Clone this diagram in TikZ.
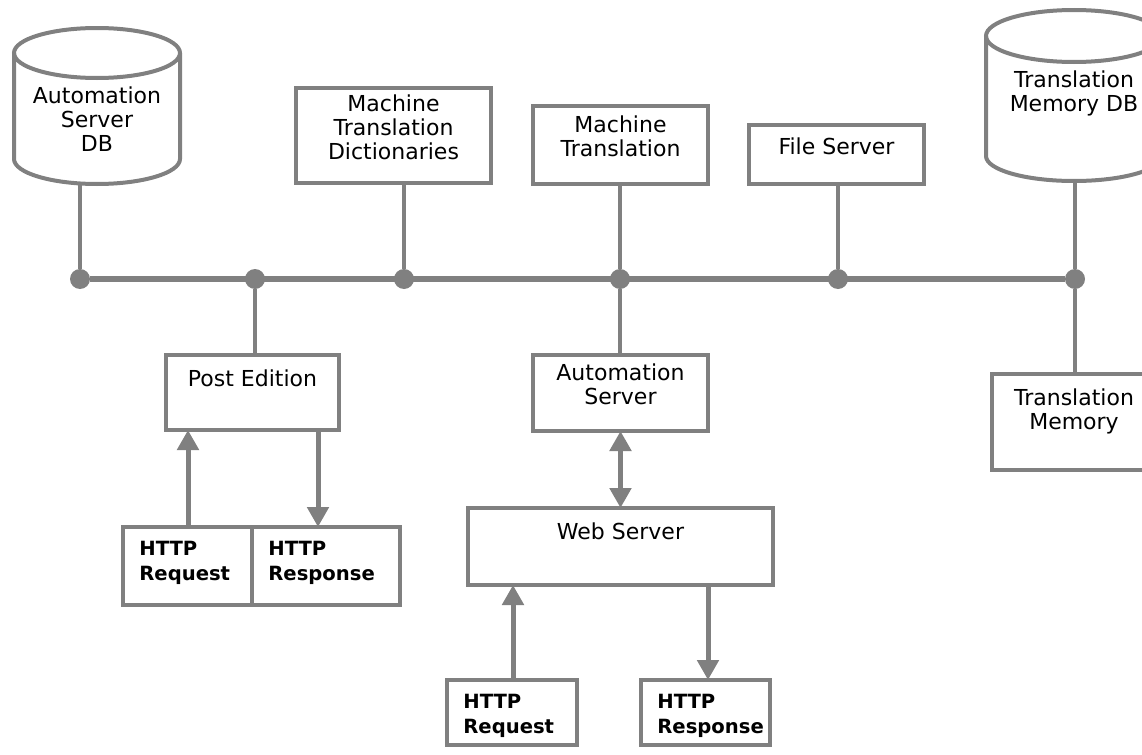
\documentclass[tikz,border=0pt]{standalone}
\usepackage{fontspec}
\setmainfont{DejaVu Sans}
\usetikzlibrary{calc,positioning,arrows.meta,shapes.geometric,fit}
\definecolor{netgray}{RGB}{128,128,128}
\tikzset{
  wire/.style={draw=netgray,line width=2pt},
  bus/.style={draw=netgray,line width=3pt},
  box/.style={draw=netgray,line width=2pt,fill=white,inner sep=0pt,outer sep=0pt,align=center,font=\fontsize{11}{12}\selectfont},
  dot/.style={circle,fill=netgray,inner sep=0pt,minimum size=10pt},
  flow/.style={draw=netgray,line width=2.5pt,-{Triangle[width=10.5pt,length=10pt]}},
  flowboth/.style={flow,{Triangle[width=10.5pt,length=10pt]}-{Triangle[width=10.5pt,length=10pt]}},
  toptext/.style={label={[anchor=north,inner sep=0pt,yshift=-7pt,align=center,font=\fontsize{11}{12}\selectfont]north:#1}},
  httptext/.style={label={[anchor=north west,inner sep=0pt,xshift=8pt,yshift=-7pt,align=left,font=\bfseries\fontsize{9.8}{12.5}\selectfont]north west:#1}},
}

\begin{document}
\begin{tikzpicture}[x=0.5pt,y=-0.5pt]

\useasboundingbox (0,0) rectangle (1142,755);
\clip (0,0) rectangle (1142,755);

%databases
\draw[wire,fill=white] (14,53) -- (14,159) arc[start angle=180,end angle=0,x radius=83,y radius=25] -- (180,53);
\draw[wire] (97,53) ellipse[x radius=83,y radius=25];
\node[box,draw=none,fill=none] (dbAuto) at (97,119) {Automation\\Server\\DB};
\coordinate (dbAutoBase) at (80,183);

\draw[wire,fill=white] (986,36) -- (986,156) arc[start angle=180,end angle=0,x radius=88,y radius=25] -- (1162,36);
\draw[wire] (1074,36) ellipse[x radius=88,y radius=26];
\node[box,draw=none,fill=none] (dbTM) at (1074,93) {Translation\\Memory DB};
\coordinate (dbTMBase) at (1075,180);

%servers on the bus
\node[box,fit={(296,88) (491,183)}] (dict) {Machine\\Translation\\Dictionaries};
\node[box,fit={(533,106) (708,184)}] (mt) {Machine\\Translation};
\node[box,fit={(749,125) (924,184)}] (fileSrv) {File Server};

\node[box,fit={(166,355) (339,430)},toptext={Post Edition}] (postEd) {};
\node[box,fit={(533,355) (708,431)}] (autoSrv) {Automation\\Server};
\node[box,fit={(992,374) (1156,470)},toptext={Translation\\Memory}] (tm) {};
\node[box,fit={(468,508) (773,585)},toptext={Web Server}] (webSrv) {};

%http boxes
\node[box,fit={(123,527) (252,605)},httptext={HTTP\\Request}] (req1) {};
\node[box,fit={(252,527) (400,605)},httptext={HTTP\\Response}] (resp1) {};
\node[box,fit={(447,680) (577,745)},httptext={HTTP\\Request}] (req2) {};
\node[box,fit={(641,680) (770,745)},httptext={HTTP\\Response}] (resp2) {};

%bus
\foreach \x/\n in {80/j1,255/j2,404/j3,620/j4,838/j5,1075/j6}
  \node[dot] (\n) at (\x,279) {};
\draw[bus] (j1) -- (j6);

\draw[wire] (j1) -- (dbAutoBase);
\draw[wire] (j2) -- (j2 |- postEd.north);
\draw[wire] (j3) -- (j3 |- dict.south);
\draw[wire] (j4) -- (j4 |- mt.south);
\draw[wire] (j4) -- (j4 |- autoSrv.north);
\draw[wire] (j5) -- (j5 |- fileSrv.south);
\draw[wire] (j6) -- (dbTMBase);
\draw[wire] (j6) -- (j6 |- tm.north);

%requests and responses
\draw[flow] ([xshift=32.5pt]req1.north west) -- ([xshift=32.5pt]req1.north west |- postEd.south);
\draw[flow] ([xshift=33pt]resp1.north west |- postEd.south) -- ([xshift=33pt]resp1.north west);
\draw[flowboth] (autoSrv.south) -- (webSrv.north);
\draw[flow] ([xshift=33pt]req2.north west) -- ([xshift=33pt]req2.north west |- webSrv.south);
\draw[flow] ([xshift=33.5pt]resp2.north west |- webSrv.south) -- ([xshift=33.5pt]resp2.north west);

\end{tikzpicture}
\end{document}
